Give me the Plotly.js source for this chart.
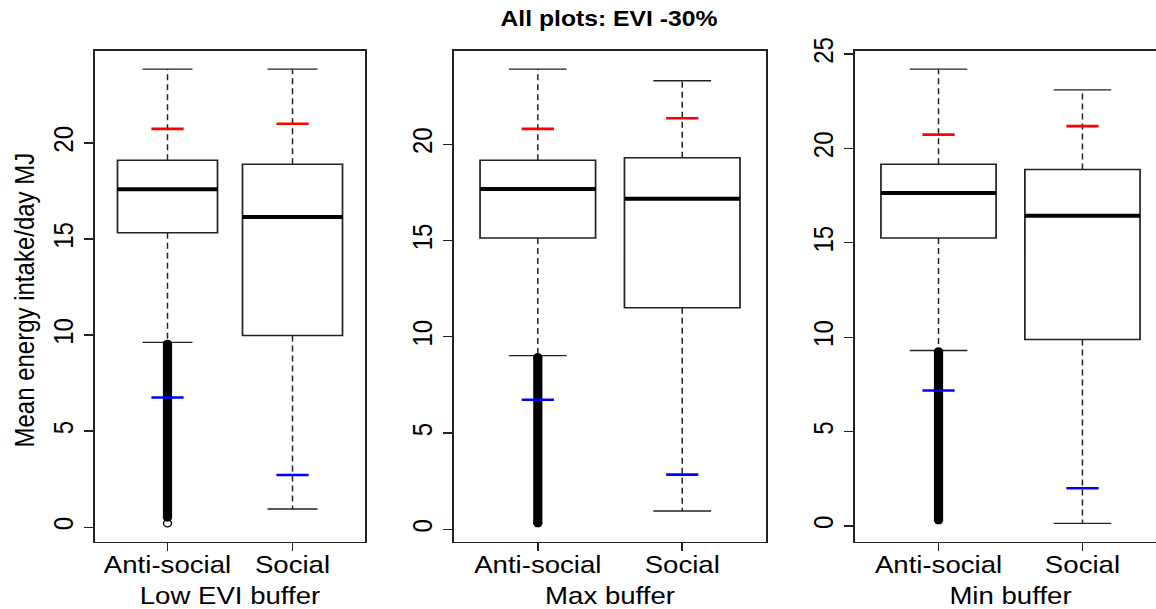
<!DOCTYPE html>
<html>
<head>
<meta charset="utf-8">
<script src="https://cdn.plot.ly/plotly-3.0.1.min.js"></script>
<style>
  html, body { margin: 0; padding: 0; background: #fff; overflow: hidden; width: 1156px; height: 609px; }
  /* the figure is drawn on a narrower canvas and widened horizontally */
  #chart { width: 1016px; height: 609px; transform: scaleX(1.15); transform-origin: 0 0; }
</style>
</head>
<body>
<div id="chart"></div>
<script>
// Mean energy intake per day (MJ), EVI reduced by 30 %, three buffer scenarios
const categories = ['Anti-social', 'Social'];
const panelTitles = ['Low EVI buffer', 'Max buffer', 'Min buffer'];

// per panel: [Anti-social, Social]
const lowerWhisker = [[9.62, 0.95], [9.02, 0.95], [9.30, 0.14]];
const q1Values     = [[15.33, 9.98], [15.13, 11.51], [15.25, 9.88]];
const medianValues = [[17.59, 16.15], [17.68, 17.17], [17.64, 16.44]];
const q3Values     = [[19.10, 18.89], [19.17, 19.30], [19.16, 18.88]];
const upperWhisker = [[23.84, 23.84], [23.90, 23.30], [24.20, 23.10]];
const upperMarks   = [[20.73, 21.00], [20.80, 21.35], [20.73, 21.18]];
const lowerMarks   = [[6.75, 2.72], [6.73, 2.84], [7.18, 2.00]];

// Anti-social outliers: a dense run of points between these values
const outlierHigh = [9.55, 8.95, 9.25];
const outlierLow  = [0.50, 0.31, 0.30];
const loneOutliers = [[0.20], [], []];

const yTicks = [0, 5, 10, 15, 20, 25];

const FONT = 'Liberation Sans, Arial, sans-serif';
const INK = '#222';
const BOX_W = 0.8;
const xDomains = [[0.0813, 0.3124], [0.3886, 0.6556], [0.7318, 0.9979]];
const yDomain = [0.1108, 0.9163];

const traces = [];
const layout = {
  width: 1016, height: 609,
  margin: {l: 0, r: 0, t: 0, b: 0},
  paper_bgcolor: '#fff', plot_bgcolor: '#fff',
  showlegend: false,
  font: {family: FONT, color: '#000', size: 24},
  title: {
    text: 'All plots: EVI -30%',
    font: {family: FONT, size: 21.5, weight: 'bold', color: '#000'},
    x: 0.5212, xref: 'paper', xanchor: 'center',
    y: 0.969, yref: 'container', yanchor: 'middle'
  },
  annotations: [{
    text: 'Mean energy intake/day MJ',
    textangle: -90,
    xref: 'paper', yref: 'paper',
    x: 0.0214, y: 0.5077, xanchor: 'center', yanchor: 'middle',
    showarrow: false,
    font: {family: FONT, size: 24, color: '#000'}
  }]
};

panelTitles.forEach((ptitle, p) => {
  const n = p === 0 ? '' : String(p + 1);
  const xa = 'x' + n, ya = 'y' + n;

  // y range as R computes it: data extent padded by 4 %
  const all = [].concat(lowerWhisker[p], upperWhisker[p], upperMarks[p], lowerMarks[p],
                        [outlierLow[p], outlierHigh[p]], loneOutliers[p]);
  const lo = Math.min(...all), hi = Math.max(...all);
  const pad = 0.04 * (hi - lo);

  layout['xaxis' + n] = {
    domain: xDomains[p], anchor: ya,
    range: [0.42, 2.58],
    tickvals: [1, 2], ticktext: categories,
    ticks: 'outside', ticklen: 8, tickwidth: 1.3, tickcolor: INK,
    ticklabelstandoff: -7,
    tickfont: {family: FONT, size: 24, color: '#000'},
    showline: true, mirror: true, linecolor: INK, linewidth: 1.5,
    showgrid: false, zeroline: false, fixedrange: true,
    title: {text: ptitle, font: {family: FONT, size: 24, color: '#000'}, standoff: 11}
  };
  layout['yaxis' + n] = {
    domain: yDomain, anchor: xa,
    range: [lo - pad, hi + pad],
    tickvals: yTicks, tickangle: -90,
    ticks: 'outside', ticklen: 8, tickwidth: 1.3, tickcolor: INK,
    tickfont: {family: FONT, size: 24, color: '#000'},
    showline: true, mirror: p < 2, linecolor: INK, linewidth: 1.5,
    showgrid: false, zeroline: false, fixedrange: true
  };

  categories.forEach((cat, i) => {
    const c = i + 1;
    // box body (whiskers drawn separately, dashed)
    traces.push({
      type: 'box', xaxis: xa, yaxis: ya,
      x: [c], q1: [q1Values[p][i]], median: [medianValues[p][i]], q3: [q3Values[p][i]],
      lowerfence: [q1Values[p][i]], upperfence: [q3Values[p][i]],
      width: BOX_W, whiskerwidth: 0, boxpoints: false,
      fillcolor: '#fff', line: {color: INK, width: 1.5}, hoverinfo: 'skip'
    });
    // dashed whiskers
    traces.push({
      type: 'scatter', mode: 'lines', xaxis: xa, yaxis: ya,
      x: [c, c, null, c, c],
      y: [q3Values[p][i], upperWhisker[p][i], null, q1Values[p][i], lowerWhisker[p][i]],
      line: {color: INK, width: 1.3, dash: '6px,4px'}, hoverinfo: 'skip'
    });
    // whisker caps
    traces.push({
      type: 'scatter', mode: 'lines', xaxis: xa, yaxis: ya,
      x: [c - BOX_W / 4, c + BOX_W / 4, null, c - BOX_W / 4, c + BOX_W / 4],
      y: [upperWhisker[p][i], upperWhisker[p][i], null, lowerWhisker[p][i], lowerWhisker[p][i]],
      line: {color: INK, width: 1.4}, hoverinfo: 'skip'
    });
    // heavy median bar
    traces.push({
      type: 'scatter', mode: 'lines', xaxis: xa, yaxis: ya,
      x: [c - BOX_W / 2, c + BOX_W / 2],
      y: [medianValues[p][i], medianValues[p][i]],
      line: {color: '#000', width: 4}, hoverinfo: 'skip'
    });
    // anti-social outliers
    if (i === 0) {
      traces.push({
        type: 'scatter', mode: 'lines+markers', xaxis: xa, yaxis: ya,
        x: [c, c], y: [outlierLow[p], outlierHigh[p]],
        line: {color: '#000', width: 8},
        marker: {symbol: 'circle', size: 8, color: '#000'}, hoverinfo: 'skip'
      });
      if (loneOutliers[p].length) {
        traces.push({
          type: 'scatter', mode: 'markers', xaxis: xa, yaxis: ya,
          x: loneOutliers[p].map(() => c), y: loneOutliers[p],
          marker: {symbol: 'circle-open', size: 7, color: '#000', line: {width: 1.2}}, hoverinfo: 'skip'
        });
      }
    }
    // red and blue dashes
    traces.push({
      type: 'scatter', mode: 'markers', xaxis: xa, yaxis: ya,
      x: [c], y: [upperMarks[p][i]],
      marker: {symbol: 'line-ew', size: 20, color: '#ff0000', line: {color: '#ff0000', width: 2.6}},
      hoverinfo: 'skip'
    });
    traces.push({
      type: 'scatter', mode: 'markers', xaxis: xa, yaxis: ya,
      x: [c], y: [lowerMarks[p][i]],
      marker: {symbol: 'line-ew', size: 20, color: '#0000ff', line: {color: '#0000ff', width: 2.6}},
      hoverinfo: 'skip'
    });
  });
});

Plotly.newPlot('chart', traces, layout, {displayModeBar: false, staticPlot: true});
</script>
</body>
</html>
